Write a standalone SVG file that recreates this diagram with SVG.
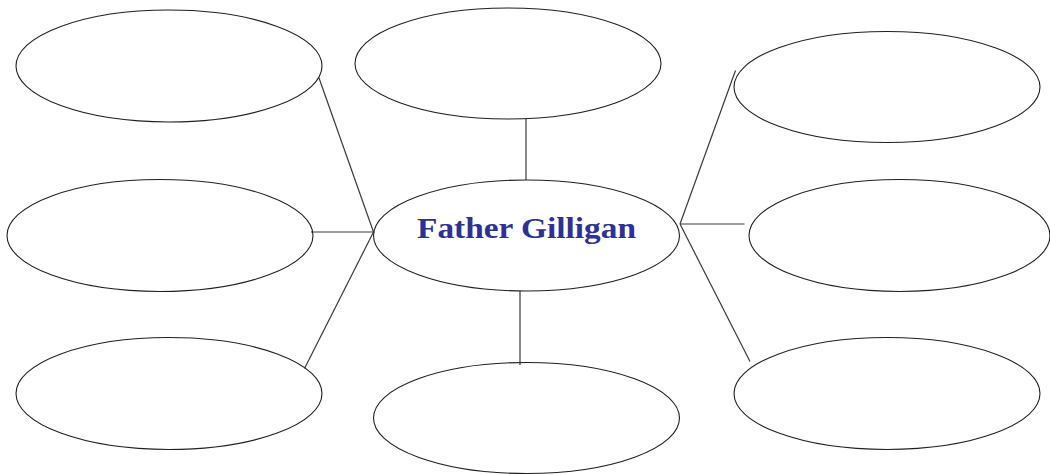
<svg xmlns="http://www.w3.org/2000/svg" width="1050" height="475" viewBox="0 0 1050 475">
<style>
.n{fill:none;stroke:#231f20;stroke-width:1.1}
.c line{stroke:#3a3a3a;stroke-width:1.2}
.t{font-family:"Liberation Serif","DejaVu Serif",serif;font-weight:bold;font-size:30px;fill:#2e3192}
</style>
<rect width="1050" height="475" fill="#fff"/>
<g class="c" id="connectors">
<line x1="319" y1="78" x2="373.5" y2="232"/>
<line x1="311" y1="232" x2="373.5" y2="232"/>
<line x1="373.5" y1="232" x2="304.5" y2="368.5"/>
<line x1="526" y1="119" x2="526" y2="180"/>
<line x1="520" y1="291" x2="520" y2="365"/>
<line x1="735.5" y1="70.5" x2="680" y2="224"/>
<line x1="680" y1="224" x2="744.5" y2="224"/>
<line x1="680" y1="224" x2="750" y2="361.5"/>
</g>
<g id="n-top-left"><ellipse class="n" cx="169" cy="66" rx="153" ry="56"/></g>
<g id="n-top-center"><ellipse class="n" cx="508" cy="63.5" rx="153" ry="55.5"/></g>
<g id="n-top-right"><ellipse class="n" cx="887" cy="87" rx="153" ry="55.5"/></g>
<g id="n-mid-left"><ellipse class="n" cx="160" cy="235.5" rx="153" ry="56"/></g>
<g id="n-center"><ellipse class="n" cx="526.5" cy="235.5" rx="153" ry="55.5"/>
<text class="t" x="417" y="238" textLength="219" lengthAdjust="spacingAndGlyphs">Father Gilligan</text></g>
<g id="n-mid-right"><ellipse class="n" cx="899.5" cy="235.5" rx="150.5" ry="56"/></g>
<g id="n-bottom-left"><ellipse class="n" cx="169" cy="393.5" rx="153" ry="56"/></g>
<g id="n-bottom-center"><ellipse class="n" cx="526.5" cy="418" rx="153" ry="55.5"/></g>
<g id="n-bottom-right"><ellipse class="n" cx="887" cy="393.5" rx="153" ry="56"/></g>
</svg>
